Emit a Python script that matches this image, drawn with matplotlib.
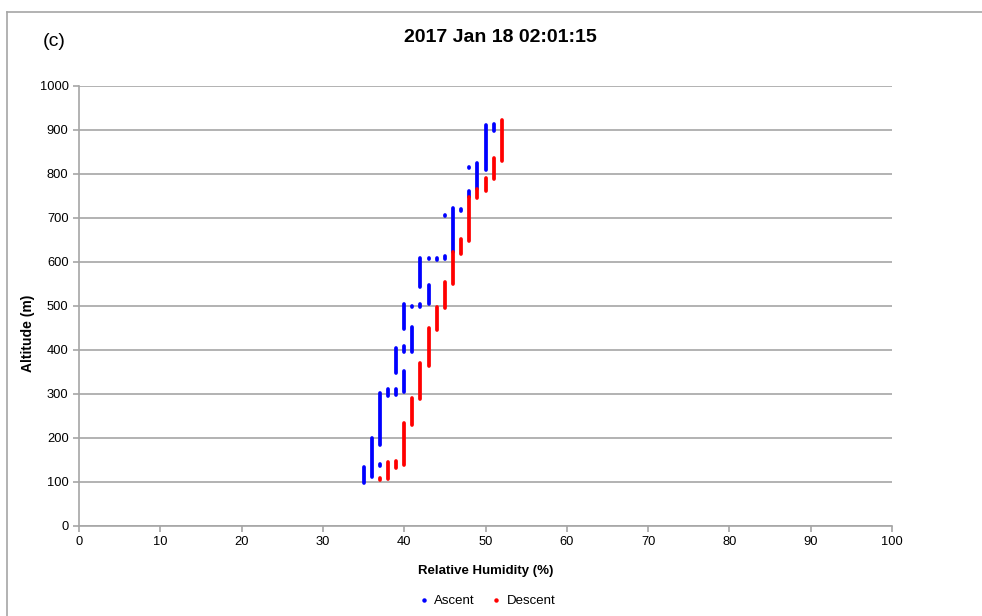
import matplotlib
matplotlib.use("Agg")
import matplotlib.pyplot as plt
from matplotlib.lines import Line2D

plt.rcParams['font.family'] = ['Liberation Sans', 'DejaVu Sans']

# relative humidity (1 % steps) and the altitude span recorded at each step
asc_rh = [35, 36, 37, 37, 38, 39, 39, 40, 40, 40, 41, 41, 42, 42, 43, 43, 44,
          45, 45, 46, 47, 48, 48, 49, 50, 51]
asc_lo = [98, 112, 184, 137, 296, 297, 347, 304, 396, 448, 395, 497, 497, 544,
          504, 606, 605, 606, 704, 623, 716, 748, 814, 767, 809, 898]
asc_hi = [135, 199, 303, 141, 311, 311, 404, 352, 410, 504, 452, 500, 504, 608,
          548, 609, 608, 613, 707, 722, 720, 762, 817, 826, 911, 913]

desc_rh = [37, 38, 39, 40, 41, 42, 43, 44, 45, 46, 47, 48, 49, 50, 51, 52]
desc_lo = [104, 106, 131, 139, 230, 288, 364, 445, 495, 550, 618, 648, 745,
           762, 789, 830]
desc_hi = [109, 145, 147, 233, 292, 370, 449, 498, 554, 623, 652, 748, 767,
           792, 836, 923]

fig = plt.figure(figsize=(9.82, 6.16), dpi=100)
ax = fig.add_axes([79 / 982, 1 - 526 / 616, 813 / 982, 440 / 616])

for rh, lo, hi, c in [(asc_rh, asc_lo, asc_hi, '#0000ff'),
                      (desc_rh, desc_lo, desc_hi, '#ff0000')]:
    segs = ax.vlines(rh, lo, hi, colors=c, linewidth=2.7, zorder=3)
    segs.set_capstyle('round')

ax.set_xlim(0, 100)
ax.set_ylim(0, 1000)
ax.set_xticks(range(0, 101, 10))
ax.set_yticks(range(0, 1001, 100))
ax.grid(axis='y', color='#a6a6a6', linewidth=1.2)
ax.set_axisbelow(True)
for side in ('top', 'right'):
    ax.spines[side].set_visible(False)
for side in ('left', 'bottom'):
    ax.spines[side].set_color('#a6a6a6')
    ax.spines[side].set_linewidth(1.2)
ax.tick_params(colors='#a6a6a6', labelcolor='black', labelsize=9.3,
               length=4, width=1.2)

ax.set_xlabel('Relative Humidity (%)', fontsize=9.5, fontweight='bold', labelpad=12)
fig.text(28 / 982, 1 - 333 / 616, 'Altitude (m)', rotation=90, ha='center',
         va='center', fontsize=10, fontweight='bold')

fig.text(500 / 982, 1 - 37 / 616, '2017 Jan 18 02:01:15', ha='center', va='center',
         fontsize=14, fontweight='bold',
         family=['Liberation Sans Narrow', 'Liberation Sans'])
fig.text(54 / 982, 1 - 41 / 616, '(c)', ha='center', va='center', fontsize=14)

handles = [Line2D([], [], linestyle='none', marker='o', markersize=2.2,
                  color='#0000ff', label='Ascent'),
           Line2D([], [], linestyle='none', marker='o', markersize=2.2,
                  color='#ff0000', label='Descent')]
fig.legend(handles=handles, loc='center', bbox_to_anchor=(487 / 982, 1 - 601 / 616),
           ncol=2, frameon=False, fontsize=9.5, handlelength=0.8,
           handletextpad=0.4, columnspacing=1.2)

# outer chart frame
fig.add_artist(Line2D([7 / 982, 7 / 982], [0, 1 - 12 / 616],
                      transform=fig.transFigure, color='#a6a6a6', linewidth=1.2))
fig.add_artist(Line2D([7 / 982, 1], [1 - 12 / 616, 1 - 12 / 616],
                      transform=fig.transFigure, color='#a6a6a6', linewidth=1.2))

fig.savefig('out.png', dpi=100)
